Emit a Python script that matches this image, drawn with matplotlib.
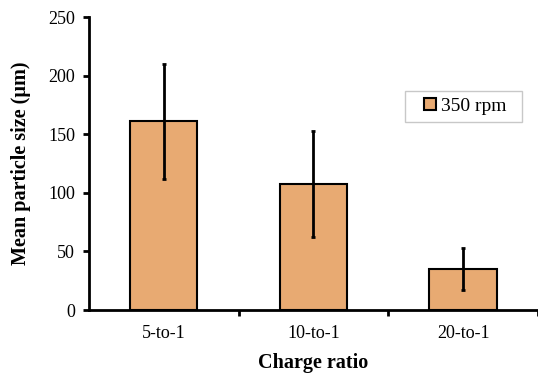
import matplotlib.pyplot as plt
import matplotlib.patches as mpatches
from matplotlib.legend_handler import HandlerPatch

categories = ['5-to-1', '10-to-1', '20-to-1']
mean_size = [161, 107.5, 35]
size_err = [49, 45, 18]
series_name = '350 rpm'

plt.rcParams['font.family'] = ['Liberation Serif', 'DejaVu Serif']


def square_right(legend, orig_handle, xdescent, ydescent, width, height, fontsize):
    # small square pushed to the right edge of the handle box
    side = height
    return mpatches.Rectangle((-xdescent + width - side, -ydescent), side, side)


def main():
    fig = plt.figure(figsize=(5.38, 3.74), dpi=100)
    ax = fig.add_axes([0.1654, 0.1711, 0.8346, 0.7834])

    x = range(len(categories))
    bars = ax.bar(x, mean_size, width=0.45, color='#E8AA72', edgecolor='black',
                  linewidth=1.5, zorder=2)
    ax.errorbar(x, mean_size, yerr=size_err, fmt='none', ecolor='black',
                elinewidth=2, capsize=1.5, capthick=2, zorder=3)

    ax.set_xlim(-0.5, 2.5)
    ax.set_ylim(0, 250)
    ax.set_yticks(range(0, 251, 50))
    ax.set_xticks([0.5, 1.5, 2.5])
    ax.set_xticklabels([])
    ax.set_xticks(list(x), minor=True)
    ax.set_xticklabels(categories, minor=True)
    ax.tick_params(axis='x', which='minor', length=0, pad=11, labelsize=13)
    ax.tick_params(axis='x', which='major', direction='out', length=4, width=2)
    ax.tick_params(axis='y', direction='out', length=4, width=2, labelsize=13, pad=6)

    for side in ['top', 'right']:
        ax.spines[side].set_visible(False)
    ax.spines['left'].set_linewidth(2)
    ax.spines['bottom'].set_linewidth(2)

    ax.set_xlabel('Charge ratio', fontsize=14.5, fontweight='bold', labelpad=8)
    ax.set_ylabel('Mean particle size (µm)', fontsize=14.5, fontweight='bold', labelpad=12)

    # legend box stretched to a fixed width in axes coords
    handle = bars.patches[0]
    leg = ax.legend([handle], [series_name],
                    loc='upper left', bbox_to_anchor=(0.703, 0.747, 0.262, 0.0),
                    mode='expand', fontsize=14,
                    handler_map={handle: HandlerPatch(patch_func=square_right)},
                    frameon=True, fancybox=False, edgecolor='#BBBBBB',
                    handlelength=1.24, handleheight=0.55, handletextpad=0.26,
                    borderpad=0.35, borderaxespad=0)
    leg.get_frame().set_linewidth(1)

    fig.savefig('out.png', dpi=100)


if __name__ == "__main__":
    main()
